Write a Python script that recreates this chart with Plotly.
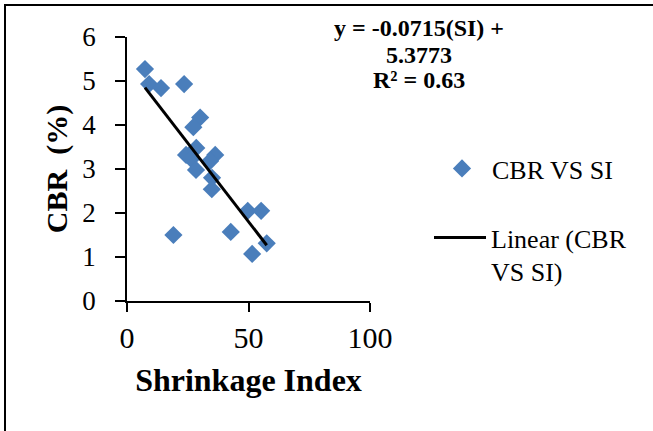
import plotly.graph_objects as go
import numpy as np

# Data
si = [7.4, 9.1, 14.0, 23.5, 30.1, 27.3, 28.5, 24.3, 26.4, 36.3, 34.2, 28.4, 35.0, 34.9,
      49.7, 55.2, 19.1, 42.7, 51.5, 57.5]
cbr = [5.27, 4.93, 4.84, 4.93, 4.17, 3.95, 3.48, 3.32, 3.23, 3.32, 3.18, 2.98, 2.80, 2.54,
       2.05, 2.05, 1.50, 1.57, 1.07, 1.31]

slope = -0.0715
intercept = 5.3773
r2 = 0.63

x_ticks = [0, 50, 100]
y_ticks = [0, 1, 2, 3, 4, 5, 6]

eq_lines = [f"y = {slope}(SI) +", f"{intercept}", f"R² = {r2}"]

fit_x = np.array([min(si), max(si)])
fit_y = slope * fit_x + intercept

SERIF = "Liberation Serif, Times New Roman, serif"

fig = go.Figure()
fig.add_trace(go.Scatter(
    x=si, y=cbr, mode="markers", name="CBR VS SI",
    marker=dict(symbol="diamond", size=14, color="#4a7ebb", line=dict(width=0)),
    legend="legend",
))
fig.add_trace(go.Scatter(
    x=fit_x, y=fit_y, mode="lines", name="Linear (CBR<br>VS SI)",
    line=dict(color="black", width=3),
    legend="legend2",
))

fig.update_layout(
    width=653, height=431,
    margin=dict(l=127, r=283, t=37, b=130),
    paper_bgcolor="white", plot_bgcolor="white",
    font=dict(family=SERIF, color="black"),
    xaxis=dict(
        range=[0, 100], tickvals=x_ticks, ticks="outside", ticklen=9, tickwidth=1.5,
        tickcolor="black", showline=True, linecolor="black", linewidth=1.5,
        showgrid=False, zeroline=False, tickfont=dict(size=30, family=SERIF),
        ticklabelstandoff=0,
        title=dict(text="<b>Shrinkage Index</b>", font=dict(size=32, family=SERIF), standoff=16),
    ),
    yaxis=dict(
        range=[0, 6], tickvals=y_ticks, ticks="outside", ticklen=10, tickwidth=1.5,
        tickcolor="black", showline=True, linecolor="black", linewidth=1.5,
        showgrid=False, zeroline=False, tickfont=dict(size=27, family=SERIF),
        ticklabelstandoff=14,
        title=dict(text="<b>CBR  (%)</b>", font=dict(size=30, family=SERIF), standoff=6),
    ),
    legend=dict(
        x=(432 - 127) / 243, y=1 - (145 - 37) / 264, xanchor="left", yanchor="top",
        font=dict(size=26, family=SERIF), bgcolor="rgba(0,0,0,0)",
        itemwidth=50,
    ),
    legend2=dict(
        x=(429 - 127) / 243, y=1 - (214 - 37) / 264, xanchor="left", yanchor="top",
        font=dict(size=26, family=SERIF), bgcolor="rgba(0,0,0,0)", valign="top",
        itemwidth=52,
    ),
    showlegend=True,
)

eq_y_px = [28, 55, 80]
for txt, ypx in zip(eq_lines, eq_y_px):
    fig.add_annotation(
        xref="paper", yref="paper",
        x=(419 - 127) / 243, y=1 - (ypx - 37) / 264, xanchor="center", yanchor="middle",
        text=f"<b>{txt}</b>", showarrow=False, align="center",
        font=dict(size=24, family=SERIF, color="black"),
    )

# Chart border (cropped at right/bottom in the reference)
fig.add_shape(
    type="rect", xref="paper", yref="paper",
    x0=(5 - 127) / 243, x1=3, y0=-0.6, y1=1 + (37 - 5) / 264,
    line=dict(color="black", width=2), fillcolor="rgba(0,0,0,0)", layer="below",
)

fig.write_html("out.html")
